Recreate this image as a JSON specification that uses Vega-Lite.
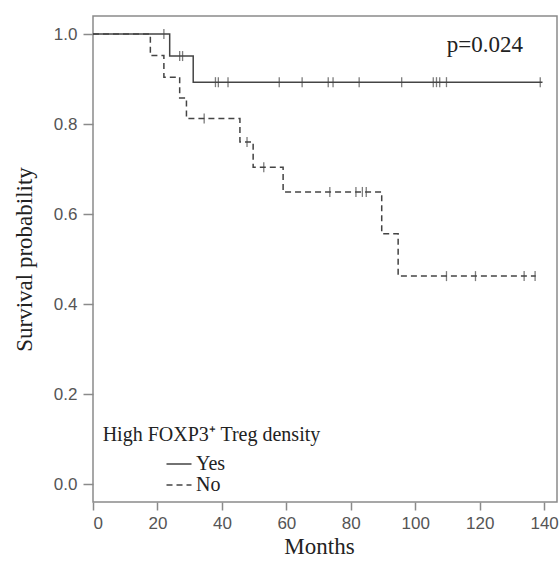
{
  "$schema": "https://vega.github.io/schema/vega-lite/v6.json",
  "width": 464,
  "height": 486,
  "autosize": {"type": "none"},
  "padding": {"left": 93, "top": 16, "right": 3, "bottom": 60},
  "background": "white",
  "config": {
    "view": {"stroke": "#8a8a8a", "strokeWidth": 1.5},
    "axis": {
      "domain": false,
      "grid": false,
      "tickColor": "#8a8a8a",
      "tickWidth": 1.5,
      "tickSize": 8,
      "labelFont": "Liberation Sans",
      "labelFontSize": 17,
      "labelColor": "#555555",
      "titleFont": "Liberation Serif",
      "titleFontSize": 23,
      "titleFontWeight": "normal",
      "titleColor": "#222222"
    },
    "legend": {
      "orient": "none",
      "legendX": 75,
      "legendY": 437,
      "padding": 0,
      "symbolType": "M-1.25,0H1.25",
      "symbolSize": 400,
      "symbolStrokeWidth": 1.5,
      "symbolStrokeColor": "#444444",
      "labelFont": "Liberation Serif",
      "labelFontSize": 20,
      "labelColor": "#222222",
      "labelOffset": 6,
      "rowPadding": 0
    }
  },
  "datasets": {
    "curves": [
      {"group": "Yes", "month": 0, "surv": 1.0},
      {"group": "Yes", "month": 23.8, "surv": 0.951},
      {"group": "Yes", "month": 31.1, "surv": 0.893},
      {"group": "Yes", "month": 139.5, "surv": 0.893},
      {"group": "No", "month": 0, "surv": 1.0},
      {"group": "No", "month": 17.8, "surv": 0.952},
      {"group": "No", "month": 22.0, "surv": 0.904},
      {"group": "No", "month": 26.9, "surv": 0.858},
      {"group": "No", "month": 29.0, "surv": 0.812},
      {"group": "No", "month": 45.6, "surv": 0.760},
      {"group": "No", "month": 49.7, "surv": 0.704},
      {"group": "No", "month": 59.0, "surv": 0.649},
      {"group": "No", "month": 89.6, "surv": 0.556},
      {"group": "No", "month": 94.7, "surv": 0.462},
      {"group": "No", "month": 137.4, "surv": 0.462}
    ],
    "censors": [
      {"group": "Yes", "month": 22.0, "surv": 1.0},
      {"group": "Yes", "month": 26.9, "surv": 0.951},
      {"group": "Yes", "month": 27.8, "surv": 0.951},
      {"group": "Yes", "month": 38.0, "surv": 0.893},
      {"group": "Yes", "month": 38.9, "surv": 0.893},
      {"group": "Yes", "month": 41.9, "surv": 0.893},
      {"group": "Yes", "month": 57.8, "surv": 0.893},
      {"group": "Yes", "month": 64.9, "surv": 0.893},
      {"group": "Yes", "month": 73.0, "surv": 0.893},
      {"group": "Yes", "month": 74.5, "surv": 0.893},
      {"group": "Yes", "month": 82.6, "surv": 0.893},
      {"group": "Yes", "month": 95.8, "surv": 0.893},
      {"group": "Yes", "month": 105.6, "surv": 0.893},
      {"group": "Yes", "month": 106.6, "surv": 0.893},
      {"group": "Yes", "month": 107.6, "surv": 0.893},
      {"group": "Yes", "month": 109.7, "surv": 0.893},
      {"group": "Yes", "month": 138.8, "surv": 0.893},
      {"group": "No", "month": 34.5, "surv": 0.812},
      {"group": "No", "month": 47.8, "surv": 0.760},
      {"group": "No", "month": 53.0, "surv": 0.704},
      {"group": "No", "month": 73.5, "surv": 0.649},
      {"group": "No", "month": 81.6, "surv": 0.649},
      {"group": "No", "month": 83.6, "surv": 0.649},
      {"group": "No", "month": 84.8, "surv": 0.649},
      {"group": "No", "month": 109.7, "surv": 0.462},
      {"group": "No", "month": 118.7, "surv": 0.462},
      {"group": "No", "month": 133.8, "surv": 0.462},
      {"group": "No", "month": 137.2, "surv": 0.462}
    ],
    "pvalue": [
      {"month": 109.8, "surv": 0.961, "label": "p=0.024"}
    ],
    "legendtitle": [
      {"month": 3.0, "surv": 0.096, "label": "High FOXP3⁺ Treg density"}
    ]
  },
  "layer": [
    {
      "data": {"name": "curves"},
      "mark": {"type": "line", "interpolate": "step-after", "color": "#444444", "strokeWidth": 1.5},
      "encoding": {
        "x": {
          "field": "month",
          "type": "quantitative",
          "scale": {"domain": [0, 144], "nice": false, "zero": false},
          "axis": {"values": [0, 20, 40, 60, 80, 100, 120, 140], "title": "Months", "labelPadding": 5, "titlePadding": 4, "titleX": 226}
        },
        "y": {
          "field": "surv",
          "type": "quantitative",
          "scale": {"domain": [-0.04, 1.04], "nice": false, "zero": false},
          "axis": {"values": [0, 0.2, 0.4, 0.6, 0.8, 1.0], "format": ".1f", "title": "Survival probability", "tickSize": 10, "labelPadding": 6, "titlePadding": 17}
        },
        "strokeDash": {
          "field": "group",
          "type": "nominal",
          "scale": {"domain": ["Yes", "No"], "range": [[1, 0], [6, 4]]},
          "legend": {"title": null}
        }
      }
    },
    {
      "data": {"name": "censors"},
      "mark": {"type": "tick", "orient": "vertical", "color": "#444444", "thickness": 1.3, "size": 10},
      "encoding": {
        "x": {"field": "month", "type": "quantitative"},
        "y": {"field": "surv", "type": "quantitative"}
      }
    },
    {
      "data": {"name": "pvalue"},
      "mark": {"type": "text", "align": "left", "baseline": "alphabetic", "font": "Liberation Serif", "fontSize": 23, "color": "#222222"},
      "encoding": {
        "x": {"field": "month", "type": "quantitative"},
        "y": {"field": "surv", "type": "quantitative"},
        "text": {"field": "label"}
      }
    },
    {
      "data": {"name": "legendtitle"},
      "mark": {"type": "text", "align": "left", "baseline": "alphabetic", "font": "Liberation Serif", "fontSize": 20, "color": "#222222"},
      "encoding": {
        "x": {"field": "month", "type": "quantitative"},
        "y": {"field": "surv", "type": "quantitative"},
        "text": {"field": "label"}
      }
    }
  ]
}
